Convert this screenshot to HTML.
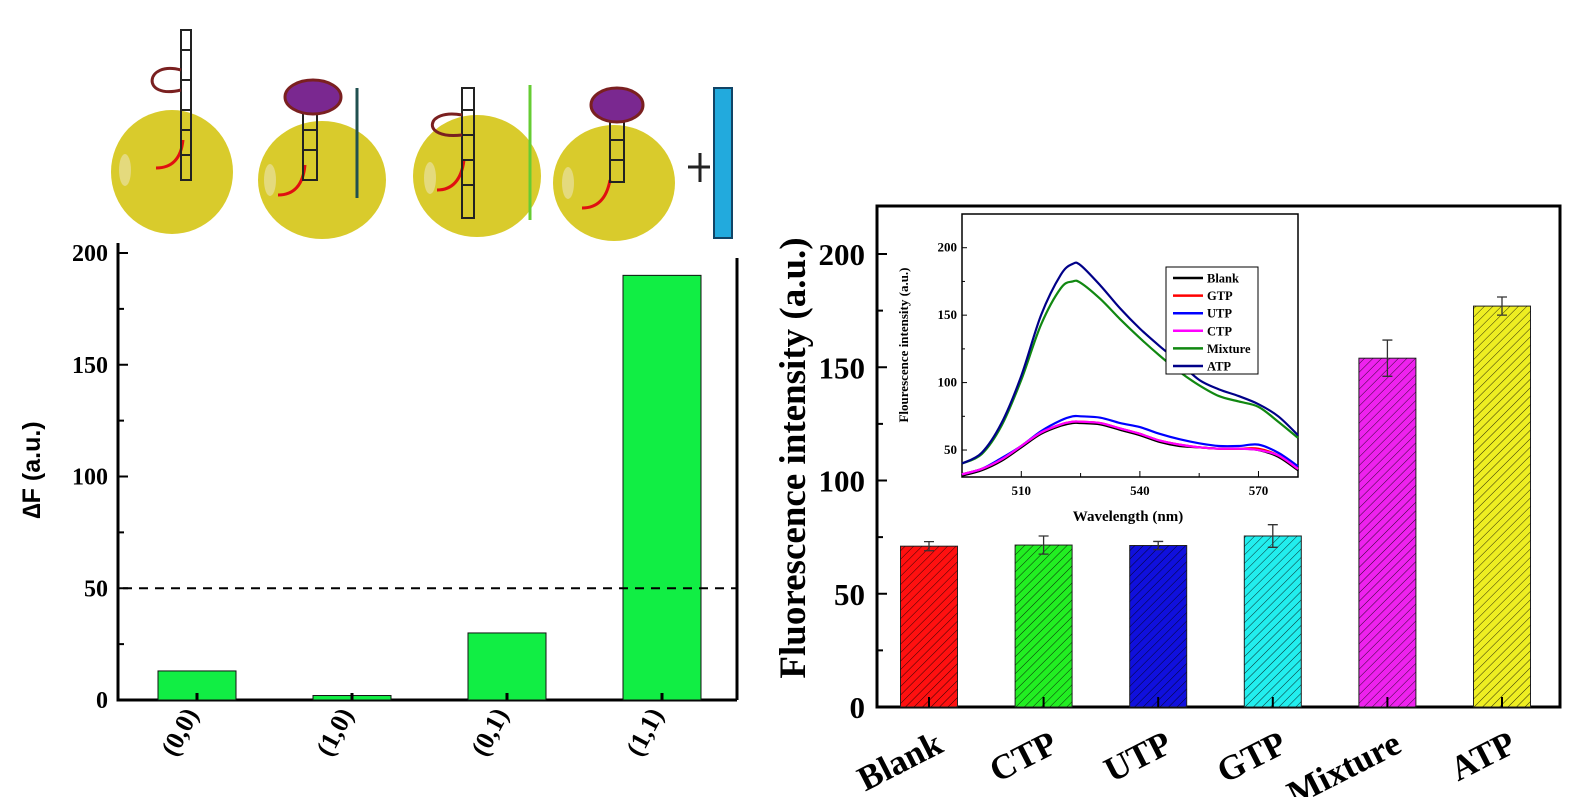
<!DOCTYPE html>
<html><head><meta charset="utf-8"><style>
html,body{margin:0;padding:0;background:#fff;}
svg{display:block;}
text{font-family:"Liberation Serif",serif;font-weight:bold;}
</style></head><body>
<svg id="s" width="1576" height="797" viewBox="0 0 1576 797" xmlns="http://www.w3.org/2000/svg">
<defs>
<pattern id="hatch" width="6" height="6" patternUnits="userSpaceOnUse" patternTransform="rotate(45)">
<line x1="0" y1="0" x2="0" y2="6" stroke="#000" stroke-width="1"/>
</pattern>
</defs>
<g id="illus">
<ellipse cx="172" cy="172" rx="61" ry="62" fill="#d9cb2c"/>
<ellipse cx="322" cy="180" rx="64" ry="59" fill="#d9cb2c"/>
<ellipse cx="477" cy="176" rx="64" ry="61" fill="#d9cb2c"/>
<ellipse cx="614" cy="183" rx="61" ry="58" fill="#d9cb2c"/>
<ellipse cx="125" cy="170" rx="6" ry="16" fill="#e8e0a0" opacity="0.7"/>
<ellipse cx="270" cy="180" rx="6" ry="16" fill="#e8e0a0" opacity="0.7"/>
<ellipse cx="430" cy="178" rx="6" ry="16" fill="#e8e0a0" opacity="0.7"/>
<ellipse cx="568" cy="183" rx="6" ry="16" fill="#e8e0a0" opacity="0.7"/>
<path d="M156,168 Q180,168 183,140" stroke="#e01010" stroke-width="3" fill="none"/>
<rect x="181" y="30" width="10" height="150" fill="none" stroke="#222" stroke-width="2"/>
<path d="M181,50H191M181,80H191M181,110H191M181,130H191M181,155H191" stroke="#222" stroke-width="2"/>
<path d="M181,90 C140,100 145,60 181,70" stroke="#7a2020" stroke-width="3" fill="none"/>
<path d="M278,195 Q302,195 305,165" stroke="#e01010" stroke-width="3" fill="none"/>
<rect x="303" y="110" width="14" height="70" fill="none" stroke="#222" stroke-width="2"/>
<path d="M303,130H317M303,150H317" stroke="#222" stroke-width="2"/>
<ellipse cx="313" cy="97" rx="28" ry="17" fill="#7a2890" stroke="#7a2020" stroke-width="3"/>
<line x1="357" y1="88" x2="357" y2="198" stroke="#205050" stroke-width="3"/>
<path d="M437,190 Q460,190 464,160" stroke="#e01010" stroke-width="3" fill="none"/>
<rect x="462" y="88" width="12" height="130" fill="none" stroke="#222" stroke-width="2"/>
<path d="M462,110H474M462,135H474M462,160H474M462,185H474" stroke="#222" stroke-width="2"/>
<path d="M462,135 C420,140 425,108 462,115" stroke="#7a2020" stroke-width="3" fill="none"/>
<line x1="530" y1="85" x2="530" y2="220" stroke="#66cc33" stroke-width="3"/>
<path d="M582,208 Q605,208 610,180" stroke="#e01010" stroke-width="3" fill="none"/>
<rect x="610" y="120" width="14" height="62" fill="none" stroke="#222" stroke-width="2"/>
<path d="M610,140H624M610,160H624" stroke="#222" stroke-width="2"/>
<ellipse cx="617" cy="105" rx="26" ry="17" fill="#7a2890" stroke="#7a2020" stroke-width="3"/>
<line x1="688" y1="167" x2="710" y2="167" stroke="#222" stroke-width="3"/>
<line x1="700" y1="153" x2="700" y2="182" stroke="#222" stroke-width="3"/>
<rect x="714" y="88" width="18" height="150" fill="#22aadd" stroke="#114466" stroke-width="2"/>
</g>
<g id="left"></g>
<g id="right"></g>
<g id="inset"></g>
</svg>
<script>
const NS='http://www.w3.org/2000/svg';
// left chart data
const leftCats=['(0,0)','(1,0)','(0,1)','(1,1)'];
const leftVals=[13,2,30,190];
const leftThreshold=50;
const leftTicks=[0,50,100,150,200];
// right chart data
const rightCats=['Blank','CTP','UTP','GTP','Mixture','ATP'];
const rightVals=[71,71.5,71.3,75.5,154,177];
const rightErr=[2,4,1.8,5,8,4];
const rightColors=['#ff1010','#22ee22','#1010dd','#22eeee','#ee22ee','#eeee22'];
const rightTicks=[0,50,100,150,200];
// inset data
const wl=[495,500,505,510,515,520,523,525,530,535,540,545,550,555,560,565,570,575,580];
const sBlank=[31,35,42,52,62,68,70,70,69,65,61,56,53,52,51,51,50,45,35];
const sGTP=[32,36,43,53,63,69,71,71,70,66,62,57,54,52,51,51,51,46,36];
const sUTP=[32,36,44,53,64,72,75,75,74,70,67,62,58,55,53,53,54,48,38];
const sCTP=[32,36,43,53,63,69,71,71,70,66,62,57,54,52,51,51,50,46,36];
const sMix=[40,47,68,102,143,170,175,174,162,147,133,120,108,98,90,86,82,71,59];
const sATP=[40,48,70,105,150,180,188,187,172,155,140,127,115,102,95,90,84,75,61];
const seriesNames=['Blank','GTP','UTP','CTP','Mixture','ATP'];
const seriesColors=['#000','#ff0000','#0000ff','#ff00ff','#118811','#000088'];
const insetXTicks=[510,540,570];
const insetYTicks=[50,100,150,200];

function el(tag,attrs,parent,txt){const e=document.createElementNS(NS,tag);for(const k in attrs)e.setAttribute(k,attrs[k]);if(txt!==undefined)e.textContent=txt;parent.appendChild(e);return e;}

// ---- left chart
const L=document.getElementById('left');
const lx0=118,lx1=737,ly0=700,ly200=253;
const ly=v=>ly0-(ly0-ly200)*v/200;
const lbx=i=>197+i*155;
el('line',{x1:lx0,y1:243,x2:lx0,y2:ly0+1.5,stroke:'#000','stroke-width':3},L);
el('line',{x1:lx0,y1:ly0,x2:lx1,y2:ly0,stroke:'#000','stroke-width':3},L);
el('line',{x1:lx1,y1:258,x2:lx1,y2:ly0,stroke:'#000','stroke-width':3},L);
for(let v=0;v<=200;v+=25){el('line',{x1:lx0,y1:ly(v),x2:lx0+(v%50?6:10),y2:ly(v),stroke:'#000','stroke-width':2},L);}
leftTicks.forEach(v=>{const t=el('text',{x:lx0-10,y:ly(v)+8,'text-anchor':'end','font-size':24},L,String(v));

});
leftVals.forEach((v,i)=>{const r=el('rect',{x:lbx(i)-39,y:ly(v),width:78,height:ly0-ly(v),fill:'#11ee44',stroke:'#111','stroke-width':1},L);


el('line',{x1:lbx(i),y1:ly0,x2:lbx(i),y2:ly0-7,stroke:'#000','stroke-width':3},L);
const t=el('text',{x:0,y:0,'font-size':26,transform:`translate(${lbx(i)+2},${ly0+14}) rotate(-62)`,'text-anchor':'end'},L,leftCats[i]);

});
const dl=el('line',{x1:lx0+5,y1:ly(leftThreshold),x2:lx1,y2:ly(leftThreshold),stroke:'#000','stroke-width':2,'stroke-dasharray':'9,7'},L);


const lt=el('text',{x:0,y:0,'font-size':25,transform:'translate(40,470) rotate(-90)','text-anchor':'middle','style':'font-family:"Liberation Sans",sans-serif'},L,'∆F (a.u.)');



// ---- right chart
const R=document.getElementById('right');
const rx0=877,rx1=1560,ry0=707,ry200=254;
const ry=v=>ry0-(ry0-ry200)*v/200;
const rbx=i=>929+i*114.6;
el('rect',{x:rx0,y:206,width:rx1-rx0,height:ry0-206,fill:'none',stroke:'#000','stroke-width':3},R);
for(let v=0;v<=200;v+=25){el('line',{x1:rx0,y1:ry(v),x2:rx0+(v%50?6:10),y2:ry(v),stroke:'#000','stroke-width':2},R);}
rightTicks.forEach(v=>{const t=el('text',{x:rx0-12,y:ry(v)+11,'text-anchor':'end','font-size':31},R,String(v));

});
rightVals.forEach((v,i)=>{const x=rbx(i)-28.5;
const r=el('rect',{x:x,y:ry(v),width:57,height:ry0-ry(v),fill:rightColors[i],stroke:'#222','stroke-width':1},R);


el('rect',{x:x,y:ry(v),width:57,height:ry0-ry(v),fill:'url(#hatch)',opacity:0.8},R);
el('line',{x1:rbx(i),y1:ry0,x2:rbx(i),y2:ry0-10,stroke:'#000','stroke-width':2},R);
const e=rightErr[i];
const eb=el('path',{d:`M${rbx(i)},${ry(v+e)}V${ry(v-e)}M${rbx(i)-5},${ry(v+e)}H${rbx(i)+5}M${rbx(i)-5},${ry(v-e)}H${rbx(i)+5}`,stroke:'#333','stroke-width':1.3,fill:'none'},R);


const t=el('text',{x:0,y:0,'font-size':35,transform:`translate(${rbx(i)+16},${ry0+44}) rotate(-27)`,'text-anchor':'end'},R,rightCats[i]);

});
const rt=el('text',{x:0,y:0,'font-size':37,transform:'translate(805,458) rotate(-90)','text-anchor':'middle'},R,'Fluorescence intensity (a.u.)');



// ---- inset
const I=document.getElementById('inset');
const ix0=962,ix1=1298,iy0=477,iyT=214;
const ixs=w=>ix0+(w-495)*(ix1-ix0)/85;
const iys=v=>iy0-(v-30)*(iy0-iyT)/195;
el('rect',{x:ix0,y:iyT,width:ix1-ix0,height:iy0-iyT,fill:'#fff',stroke:'#000','stroke-width':1.5},I);
for(let w=495;w<=580;w+=15){el('line',{x1:ixs(w),y1:iy0,x2:ixs(w),y2:iy0-(w%30===0?6:4),stroke:'#000','stroke-width':1},I);}
for(let v=50;v<=200;v+=25){el('line',{x1:ix0,y1:iys(v),x2:ix0+(v%50?3:5),y2:iys(v),stroke:'#000','stroke-width':1},I);}
insetXTicks.forEach(w=>{const t=el('text',{x:ixs(w),y:iy0+18,'text-anchor':'middle','font-size':13},I,String(w));

});
insetYTicks.forEach(v=>{const t=el('text',{x:ix0-5,y:iys(v)+4,'text-anchor':'end','font-size':13},I,String(v));

});
const xt=el('text',{x:1128,y:521,'text-anchor':'middle','font-size':15},I,'Wavelength (nm)');


const yt=el('text',{x:0,y:0,'font-size':13,transform:'translate(908,345) rotate(-90)','text-anchor':'middle'},I,'Flourescence intensity (a.u.)');


function smooth(ys){const p=wl.map((w,i)=>[ixs(w),iys(ys[i])]);let d=`M${p[0][0]},${p[0][1]}`;
for(let i=0;i<p.length-1;i++){const a=p[i-1]||p[i],b=p[i],c=p[i+1],e=p[i+2]||c;
d+=`C${b[0]+(c[0]-a[0])/6},${b[1]+(c[1]-a[1])/6} ${c[0]-(e[0]-b[0])/6},${c[1]-(e[1]-b[1])/6} ${c[0]},${c[1]}`;}return d;}
const allSeries=[sBlank,sGTP,sUTP,sCTP,sMix,sATP];
allSeries.forEach((s,k)=>{const pth=el('path',{d:smooth(s),stroke:seriesColors[k],'stroke-width':2.2,fill:'none'},I);

});
const lg=el('g',{},I);


el('rect',{x:1166,y:267,width:92,height:107,fill:'#fff',stroke:'#000','stroke-width':1},lg);
seriesNames.forEach((n,k)=>{const y=278+k*17.6;
el('line',{x1:1173,y1:y,x2:1203,y2:y,stroke:seriesColors[k],'stroke-width':2.5},lg);
const t=el('text',{x:1207,y:y+4.5,'font-size':12.5},lg,n);

});
</script>
</body></html>
